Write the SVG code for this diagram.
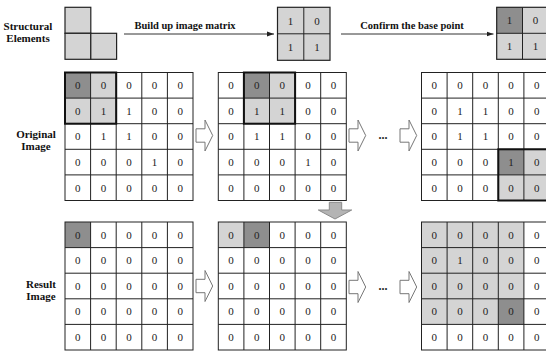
<svg xmlns="http://www.w3.org/2000/svg" xmlns:xlink="http://www.w3.org/1999/xlink" width="546" height="352" viewBox="0 0 546 352">
<style>
.bg{fill:#fff}
.dk{fill:#8e8e8e}
.lt{fill:#d4d4d4}
.ln{fill:none;stroke:#222;stroke-width:1}
.hl{fill:none;stroke:#111;stroke-width:2}
.n{font-family:"Liberation Serif","DejaVu Serif","Times New Roman",serif;font-size:11px;fill:#222;text-anchor:middle}
.lb{font-family:"Liberation Serif","DejaVu Serif","Times New Roman",serif;font-size:11px;font-weight:bold;fill:#111;text-anchor:middle}
.cl{font-family:"Liberation Serif","DejaVu Serif","Times New Roman",serif;font-size:10.5px;font-weight:bold;fill:#111;text-anchor:middle}
.dots{font-family:"Liberation Serif","DejaVu Serif",serif;font-size:12px;font-weight:bold;fill:#222;text-anchor:middle}
.ha{fill:#fff;stroke:#777;stroke-width:1}
.se{fill:#d4d4d4;stroke:#222;stroke-width:1.2}
.arr{stroke:#333;stroke-width:1;fill:none}
</style>
<defs>
<g id="lines">
<path class="ln" d="M25.6 0V128M51.2 0V128M76.8 0V128M102.4 0V128M0 25.6H128M0 51.2H128M0 76.8H128M0 102.4H128"/>
<rect class="ln" width="128" height="128"/>
</g>
<path id="harrow" class="ha" d="M0 -6.7H9V-15.5L16.7 0L9 15.5V6.7H0Z"/>
<marker id="ah" markerWidth="8" markerHeight="6" refX="7" refY="3" orient="auto" markerUnits="userSpaceOnUse">
<path d="M0 0.5L7 3L0 5.5Z" fill="#222"/>
</marker>
</defs>

<g id="labels">
<text class="lb" x="28" y="29.5">Structural</text>
<text class="lb" x="28" y="42">Elements</text>
<text class="lb" x="36" y="137.5">Original</text>
<text class="lb" x="36" y="150">Image</text>
<text class="lb" x="41" y="287.5">Result</text>
<text class="lb" x="41" y="299.5">Image</text>
</g>

<g id="structural-element">
<rect class="se" x="65" y="7.3" width="25.8" height="26"/>
<rect class="se" x="65" y="33.3" width="25.8" height="26"/>
<rect class="se" x="90.8" y="33.3" width="25.8" height="26"/>
</g>

<g id="matrix1">
<rect class="lt" x="277.5" y="7.3" width="52.5" height="53"/>
<path class="ln" d="M303.8 7.3V60.3M277.5 33.8H330"/>
<rect class="se" style="fill:none" x="277.5" y="7.3" width="52.5" height="53"/>
<text class="n" x="290.6" y="24.5">1</text>
<text class="n" x="316.9" y="24.5">0</text>
<text class="n" x="290.6" y="50.5">1</text>
<text class="n" x="316.9" y="50.5">1</text>
</g>

<g id="matrix2">
<rect class="lt" x="496.7" y="7.3" width="53" height="52"/>
<rect class="dk" x="496.7" y="7.3" width="25.8" height="26"/>
<path class="ln" d="M522.5 7.3V59.3M496.7 33.3H550"/>
<rect class="se" style="fill:none" x="496.7" y="7.3" width="53" height="52"/>
<text class="n" x="509.6" y="24">1</text>
<text class="n" x="535.4" y="24">0</text>
<text class="n" x="509.6" y="50">1</text>
<text class="n" x="535.4" y="50">1</text>
</g>

<g id="orig1" transform="translate(65,72.5)">
<rect class="bg" width="128" height="128"/>
<rect class="lt" x="0" y="0" width="51.2" height="51.2"/>
<rect class="dk" x="0" y="0" width="25.6" height="25.6"/>
<use xlink:href="#lines" href="#lines"/>
<rect class="hl" x="0" y="0" width="51.2" height="51.2"/>
<text class="n" x="12.8" y="16.6">0</text><text class="n" x="38.4" y="16.6">0</text><text class="n" x="64" y="16.6">0</text><text class="n" x="89.6" y="16.6">0</text><text class="n" x="115.2" y="16.6">0</text>
<text class="n" x="12.8" y="42.2">0</text><text class="n" x="38.4" y="42.2">1</text><text class="n" x="64" y="42.2">1</text><text class="n" x="89.6" y="42.2">0</text><text class="n" x="115.2" y="42.2">0</text>
<text class="n" x="12.8" y="67.8">0</text><text class="n" x="38.4" y="67.8">1</text><text class="n" x="64" y="67.8">1</text><text class="n" x="89.6" y="67.8">0</text><text class="n" x="115.2" y="67.8">0</text>
<text class="n" x="12.8" y="93.4">0</text><text class="n" x="38.4" y="93.4">0</text><text class="n" x="64" y="93.4">0</text><text class="n" x="89.6" y="93.4">1</text><text class="n" x="115.2" y="93.4">0</text>
<text class="n" x="12.8" y="119">0</text><text class="n" x="38.4" y="119">0</text><text class="n" x="64" y="119">0</text><text class="n" x="89.6" y="119">0</text><text class="n" x="115.2" y="119">0</text>
</g>

<g id="orig2" transform="translate(218.3,72.5)">
<rect class="bg" width="128" height="128"/>
<rect class="lt" x="25.6" y="0" width="51.2" height="51.2"/>
<rect class="dk" x="25.6" y="0" width="25.6" height="25.6"/>
<use xlink:href="#lines" href="#lines"/>
<rect class="hl" x="25.6" y="0" width="51.2" height="51.2"/>
<text class="n" x="12.8" y="16.6">0</text><text class="n" x="38.4" y="16.6">0</text><text class="n" x="64" y="16.6">0</text><text class="n" x="89.6" y="16.6">0</text><text class="n" x="115.2" y="16.6">0</text>
<text class="n" x="12.8" y="42.2">0</text><text class="n" x="38.4" y="42.2">1</text><text class="n" x="64" y="42.2">1</text><text class="n" x="89.6" y="42.2">0</text><text class="n" x="115.2" y="42.2">0</text>
<text class="n" x="12.8" y="67.8">0</text><text class="n" x="38.4" y="67.8">1</text><text class="n" x="64" y="67.8">1</text><text class="n" x="89.6" y="67.8">0</text><text class="n" x="115.2" y="67.8">0</text>
<text class="n" x="12.8" y="93.4">0</text><text class="n" x="38.4" y="93.4">0</text><text class="n" x="64" y="93.4">0</text><text class="n" x="89.6" y="93.4">1</text><text class="n" x="115.2" y="93.4">0</text>
<text class="n" x="12.8" y="119">0</text><text class="n" x="38.4" y="119">0</text><text class="n" x="64" y="119">0</text><text class="n" x="89.6" y="119">0</text><text class="n" x="115.2" y="119">0</text>
</g>

<g id="orig3" transform="translate(421.5,72.5)">
<rect class="bg" width="128" height="128"/>
<rect class="lt" x="76.8" y="76.8" width="51.2" height="51.2"/>
<rect class="dk" x="76.8" y="76.8" width="25.6" height="25.6"/>
<use xlink:href="#lines" href="#lines"/>
<rect class="hl" x="76.8" y="76.8" width="51.2" height="51.2"/>
<text class="n" x="12.8" y="16.6">0</text><text class="n" x="38.4" y="16.6">0</text><text class="n" x="64" y="16.6">0</text><text class="n" x="89.6" y="16.6">0</text><text class="n" x="115.2" y="16.6">0</text>
<text class="n" x="12.8" y="42.2">0</text><text class="n" x="38.4" y="42.2">1</text><text class="n" x="64" y="42.2">1</text><text class="n" x="89.6" y="42.2">0</text><text class="n" x="115.2" y="42.2">0</text>
<text class="n" x="12.8" y="67.8">0</text><text class="n" x="38.4" y="67.8">1</text><text class="n" x="64" y="67.8">1</text><text class="n" x="89.6" y="67.8">0</text><text class="n" x="115.2" y="67.8">0</text>
<text class="n" x="12.8" y="93.4">0</text><text class="n" x="38.4" y="93.4">0</text><text class="n" x="64" y="93.4">0</text><text class="n" x="89.6" y="93.4">1</text><text class="n" x="115.2" y="93.4">0</text>
<text class="n" x="12.8" y="119">0</text><text class="n" x="38.4" y="119">0</text><text class="n" x="64" y="119">0</text><text class="n" x="89.6" y="119">0</text><text class="n" x="115.2" y="119">0</text>
</g>

<g id="result1" transform="translate(65,222)">
<rect class="bg" width="128" height="128"/>
<rect class="dk" x="0" y="0" width="25.6" height="25.6"/>
<use xlink:href="#lines" href="#lines"/>
<text class="n" x="12.8" y="16.6">0</text><text class="n" x="38.4" y="16.6">0</text><text class="n" x="64" y="16.6">0</text><text class="n" x="89.6" y="16.6">0</text><text class="n" x="115.2" y="16.6">0</text>
<text class="n" x="12.8" y="42.2">0</text><text class="n" x="38.4" y="42.2">0</text><text class="n" x="64" y="42.2">0</text><text class="n" x="89.6" y="42.2">0</text><text class="n" x="115.2" y="42.2">0</text>
<text class="n" x="12.8" y="67.8">0</text><text class="n" x="38.4" y="67.8">0</text><text class="n" x="64" y="67.8">0</text><text class="n" x="89.6" y="67.8">0</text><text class="n" x="115.2" y="67.8">0</text>
<text class="n" x="12.8" y="93.4">0</text><text class="n" x="38.4" y="93.4">0</text><text class="n" x="64" y="93.4">0</text><text class="n" x="89.6" y="93.4">0</text><text class="n" x="115.2" y="93.4">0</text>
<text class="n" x="12.8" y="119">0</text><text class="n" x="38.4" y="119">0</text><text class="n" x="64" y="119">0</text><text class="n" x="89.6" y="119">0</text><text class="n" x="115.2" y="119">0</text>
</g>

<g id="result2" transform="translate(218.3,222)">
<rect class="bg" width="128" height="128"/>
<rect class="lt" x="0" y="0" width="25.6" height="25.6"/>
<rect class="dk" x="25.6" y="0" width="25.6" height="25.6"/>
<use xlink:href="#lines" href="#lines"/>
<text class="n" x="12.8" y="16.6">0</text><text class="n" x="38.4" y="16.6">0</text><text class="n" x="64" y="16.6">0</text><text class="n" x="89.6" y="16.6">0</text><text class="n" x="115.2" y="16.6">0</text>
<text class="n" x="12.8" y="42.2">0</text><text class="n" x="38.4" y="42.2">0</text><text class="n" x="64" y="42.2">0</text><text class="n" x="89.6" y="42.2">0</text><text class="n" x="115.2" y="42.2">0</text>
<text class="n" x="12.8" y="67.8">0</text><text class="n" x="38.4" y="67.8">0</text><text class="n" x="64" y="67.8">0</text><text class="n" x="89.6" y="67.8">0</text><text class="n" x="115.2" y="67.8">0</text>
<text class="n" x="12.8" y="93.4">0</text><text class="n" x="38.4" y="93.4">0</text><text class="n" x="64" y="93.4">0</text><text class="n" x="89.6" y="93.4">0</text><text class="n" x="115.2" y="93.4">0</text>
<text class="n" x="12.8" y="119">0</text><text class="n" x="38.4" y="119">0</text><text class="n" x="64" y="119">0</text><text class="n" x="89.6" y="119">0</text><text class="n" x="115.2" y="119">0</text>
</g>

<g id="result3" transform="translate(421.5,222)">
<rect class="bg" width="128" height="128"/>
<rect class="lt" x="0" y="0" width="102.4" height="102.4"/>
<rect class="dk" x="76.8" y="76.8" width="25.6" height="25.6"/>
<use xlink:href="#lines" href="#lines"/>
<text class="n" x="12.8" y="16.6">0</text><text class="n" x="38.4" y="16.6">0</text><text class="n" x="64" y="16.6">0</text><text class="n" x="89.6" y="16.6">0</text><text class="n" x="115.2" y="16.6">0</text>
<text class="n" x="12.8" y="42.2">0</text><text class="n" x="38.4" y="42.2">1</text><text class="n" x="64" y="42.2">0</text><text class="n" x="89.6" y="42.2">0</text><text class="n" x="115.2" y="42.2">0</text>
<text class="n" x="12.8" y="67.8">0</text><text class="n" x="38.4" y="67.8">0</text><text class="n" x="64" y="67.8">0</text><text class="n" x="89.6" y="67.8">0</text><text class="n" x="115.2" y="67.8">0</text>
<text class="n" x="12.8" y="93.4">0</text><text class="n" x="38.4" y="93.4">0</text><text class="n" x="64" y="93.4">0</text><text class="n" x="89.6" y="93.4">0</text><text class="n" x="115.2" y="93.4">0</text>
<text class="n" x="12.8" y="119">0</text><text class="n" x="38.4" y="119">0</text><text class="n" x="64" y="119">0</text><text class="n" x="89.6" y="119">0</text><text class="n" x="115.2" y="119">0</text>
</g>

<g id="connectors">
<line class="arr" x1="124" y1="34" x2="274" y2="34" marker-end="url(#ah)"/>
<text class="cl" x="185" y="29">Build up image matrix</text>
<line class="arr" x1="341" y1="34" x2="493.5" y2="34" marker-end="url(#ah)"/>
<text class="cl" x="412" y="29">Confirm the base point</text>
<use xlink:href="#harrow" href="#harrow" x="196" y="135.5"/>
<use xlink:href="#harrow" href="#harrow" x="349" y="135.5"/>
<use xlink:href="#harrow" href="#harrow" x="400" y="135.5"/>
<use xlink:href="#harrow" href="#harrow" x="196" y="286"/>
<use xlink:href="#harrow" href="#harrow" x="349" y="287"/>
<use xlink:href="#harrow" href="#harrow" x="400" y="287"/>
<text class="dots" x="383" y="139">...</text>
<text class="dots" x="383" y="290">...</text>
<path d="M329.3 202.3H341.7V210H351.7L335 219L318.3 210H329.3Z" fill="#b4b4b4" stroke="#8a8a8a" stroke-width="1"/>
</g>
</svg>
